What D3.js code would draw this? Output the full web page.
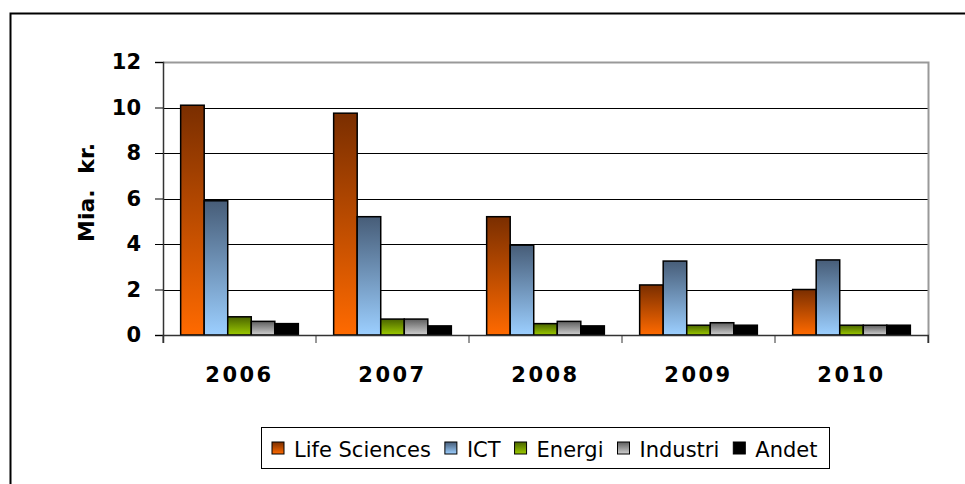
<!DOCTYPE html>
<html>
<head>
<meta charset="utf-8">
<script src="https://cdnjs.cloudflare.com/ajax/libs/d3/7.8.5/d3.min.js"></script>
<style>
	body { margin: 0; background: #fff; }
	svg text { font-family: "DejaVu Sans", sans-serif; fill: #000; }
</style>
</head>
<body>
<svg id="chart" width="965" height="484"></svg>
<script>
var years = ["2006", "2007", "2008", "2009", "2010"];
var sectors = ["Life Sciences", "ICT", "Energi", "Industri", "Andet"];
var lifeSciences = [10.1, 9.75, 5.2, 2.2, 2.0];
var ict = [5.9, 5.2, 3.95, 3.25, 3.3];
var energi = [0.8, 0.7, 0.5, 0.43, 0.43];
var industri = [0.6, 0.7, 0.6, 0.54, 0.43];
var andet = [0.5, 0.4, 0.4, 0.43, 0.43];
var yTicks = [0, 2, 4, 6, 8, 10, 12];

var seriesValues = [lifeSciences, ict, energi, industri, andet];

// gradient stops per series (top -> bottom)
var gradients = [
	["#7a2e00", "#ff6a00"],
	["#475d78", "#9ccfff"],
	["#4a6400", "#9cca00"],
	["#5e5e5e", "#d0d0d0"],
	["#000000", "#000000"]
];

var svg = d3.select("#chart");
var chartX = 163, chartY = 62, chartWidth = 765, chartHeight = 273;

// outer frame
svg.append("rect")
	.attr("x", 10.5).attr("y", 13.5)
	.attr("width", 1000).attr("height", 1000)
	.attr("fill", "none").attr("stroke", "#000").attr("stroke-width", 2);

var defs = svg.append("defs");
gradients.forEach(function (gr, i) {
	var lg = defs.append("linearGradient")
		.attr("id", "grad" + i)
		.attr("x1", 0).attr("y1", 0).attr("x2", 0).attr("y2", 1);
	lg.append("stop").attr("offset", "0%").attr("stop-color", gr[0]);
	lg.append("stop").attr("offset", "100%").attr("stop-color", gr[1]);
});

var x0 = d3.scaleBand().domain(years).range([chartX, chartX + chartWidth]).padding(0);
// 5 bars + 1.5 bar-width gap per category
var barW = x0.bandwidth() / 6.5;
var x1 = d3.scaleBand().domain(sectors).range([barW * 0.75, barW * 5.75]).padding(0);
var y = d3.scaleLinear().domain([0, 12]).range([chartY + chartHeight, chartY]);

var g = svg.append("g");

// gridlines
g.selectAll("line.grid").data(yTicks.slice(1, -1)).enter().append("line")
	.attr("class", "grid")
	.attr("x1", chartX).attr("x2", chartX + chartWidth)
	.attr("y1", function (d) { return Math.round(y(d)) + 0.5; })
	.attr("y2", function (d) { return Math.round(y(d)) + 0.5; })
	.attr("stroke", "#000").attr("stroke-width", 1);

// plot border top/right
g.append("path")
	.attr("d", "M" + chartX + "," + (chartY + 0.5) + "H" + (chartX + chartWidth + 0.5) + "V" + (chartY + chartHeight))
	.attr("fill", "none").attr("stroke", "#999").attr("stroke-width", 2);

// bars
var groups = g.selectAll("g.year").data(years).enter().append("g")
	.attr("class", "year")
	.attr("transform", function (d) { return "translate(" + x0(d) + ",0)"; });

groups.selectAll("rect").data(function (d, i) {
	return seriesValues.map(function (s, j) { return { key: sectors[j], idx: j, value: s[i] }; });
}).enter().append("rect")
	.attr("x", function (d) { return x1(d.key); })
	.attr("y", function (d) { return y(d.value); })
	.attr("width", x1.bandwidth())
	.attr("height", function (d) { return y(0) - y(d.value); })
	.attr("fill", function (d) { return "url(#grad" + d.idx + ")"; })
	.attr("stroke", "#000").attr("stroke-width", 1.5);

// y axis
var yAxis = d3.axisLeft(y).tickValues(yTicks).tickSize(8).tickPadding(14).tickFormat(d3.format("d"));
var ya = svg.append("g").attr("transform", "translate(" + chartX + ",0)").call(yAxis);
ya.select(".domain").attr("stroke", "#333").attr("stroke-width", 1.5);
ya.selectAll(".tick line").attr("stroke", "#000");
ya.selectAll("text").attr("font-size", 21).attr("font-weight", "bold")
	.attr("font-family", "DejaVu Sans").attr("fill", "#000");

// x axis
var xAxis = d3.axisBottom(x0).tickSize(8).tickSizeOuter(8).tickPadding(24);
var xa = svg.append("g").attr("transform", "translate(0," + (chartY + chartHeight) + ")").call(xAxis);
xa.select(".domain").attr("stroke", "#333").attr("stroke-width", 1.5);
xa.selectAll(".tick line").attr("stroke", "#333").attr("transform", "translate(" + (-x0.bandwidth() / 2) + ",0)");
xa.append("line").attr("x1", chartX + chartWidth).attr("x2", chartX + chartWidth)
	.attr("y1", 0).attr("y2", 8).attr("stroke", "#333");
xa.selectAll("text").attr("font-size", 21).attr("font-weight", "bold")
	.attr("font-family", "DejaVu Sans").attr("fill", "#000").attr("letter-spacing", 2.5);

// y title
svg.append("text")
	.attr("transform", "translate(94," + (chartY + chartHeight / 2 - 6) + ") rotate(-90)")
	.attr("text-anchor", "middle")
	.attr("font-size", 22).attr("font-weight", "bold")
	.attr("word-spacing", 8)
	.text("Mia. kr.");

// legend
var legend = svg.append("g");
legend.append("rect")
	.attr("x", 261.5).attr("y", 427.5).attr("width", 568).attr("height", 41)
	.attr("fill", "#fff").attr("stroke", "#000").attr("stroke-width", 1);

var lx = 272;
sectors.forEach(function (s, i) {
	legend.append("rect")
		.attr("x", lx).attr("y", 442).attr("width", 12).attr("height", 12)
		.attr("fill", "url(#grad" + i + ")").attr("stroke", "#000").attr("stroke-width", 1);
	var t = legend.append("text")
		.attr("x", lx + 22).attr("y", 457)
		.attr("font-size", 21)
		.text(s);
	lx += 22 + t.node().getComputedTextLength() + 14;
});
</script>
</body>
</html>
